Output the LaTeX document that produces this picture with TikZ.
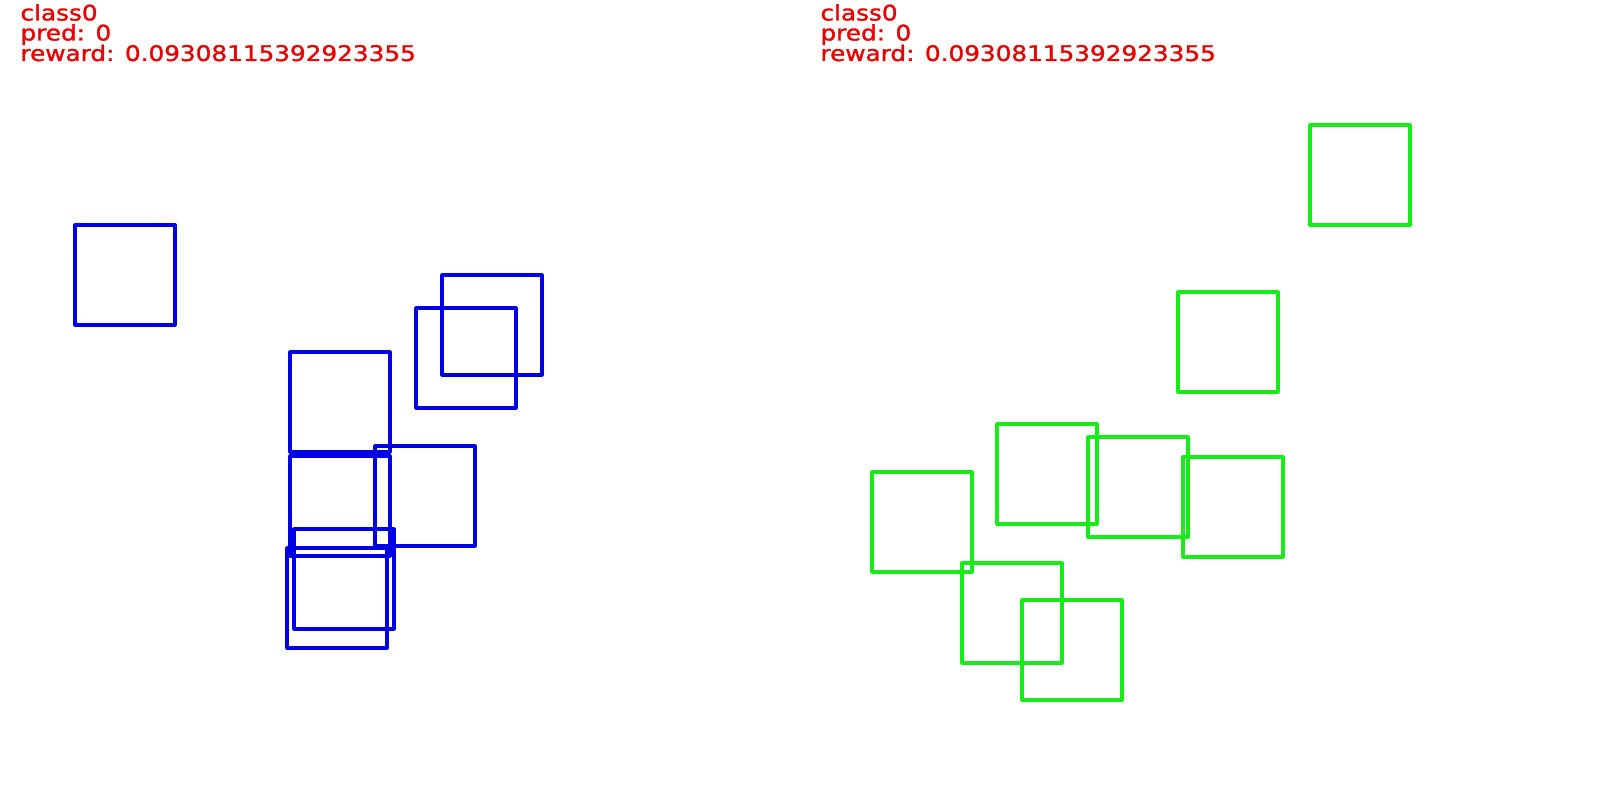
\documentclass[tikz,border=0pt]{standalone}
\usepackage{fontspec}
\setmainfont{DejaVu Sans}
\newfontfamily\hersheyfont[FakeBold=1.2]{DejaVu Sans}
\definecolor{boxblue}{RGB}{0,0,228}
\definecolor{boxgreen}{RGB}{24,236,24}
\definecolor{txtred}{RGB}{232,0,0}
\tikzset{
  bluebox/.style={draw=boxblue, line width=3.2pt, line join=round},
  greenbox/.style={draw=boxgreen, line width=3.2pt, line join=round},
  infotext/.style={anchor=base west, inner sep=0pt, outer sep=0pt, text=txtred,
    font=\hersheyfont\fontsize{21.5pt}{21.5pt}\selectfont}
}
\newcommand{\wide}[1]{\scalebox{1.15}[1]{#1}}
\begin{document}
\begin{tikzpicture}[x=1pt,y=-1pt]
\useasboundingbox (0,0) rectangle (1600,800);
\fill[white] (0,0) rectangle (1600,800);
% left panel text
\node[infotext] (lc) at (20.5,20.5) {\wide{class0}};
\node[infotext] (lp) at (20.5,40.5) {\wide{pred: 0}};
\node[infotext] (lr) at (20.5,61) {\wide{reward: 0.09308115392923355}};
% right panel text
\node[infotext] (rc) at (820.5,20.5) {\wide{class0}};
\node[infotext] (rp) at (820.5,40.5) {\wide{pred: 0}};
\node[infotext] (rr) at (820.5,61) {\wide{reward: 0.09308115392923355}};
% blue squares
\foreach \x/\y in {75/225, 442/275, 416/308, 290/352, 290/456, 375/446, 294/529, 287/548}
  \draw[bluebox] (\x,\y) rectangle ++(100,100);
% green squares
\foreach \x/\y in {1310/125, 1178/292, 997/424, 1088/437, 1183/457, 872/472, 962/563, 1022/600}
  \draw[greenbox] (\x,\y) rectangle ++(100,100);
\end{tikzpicture}
\end{document}
